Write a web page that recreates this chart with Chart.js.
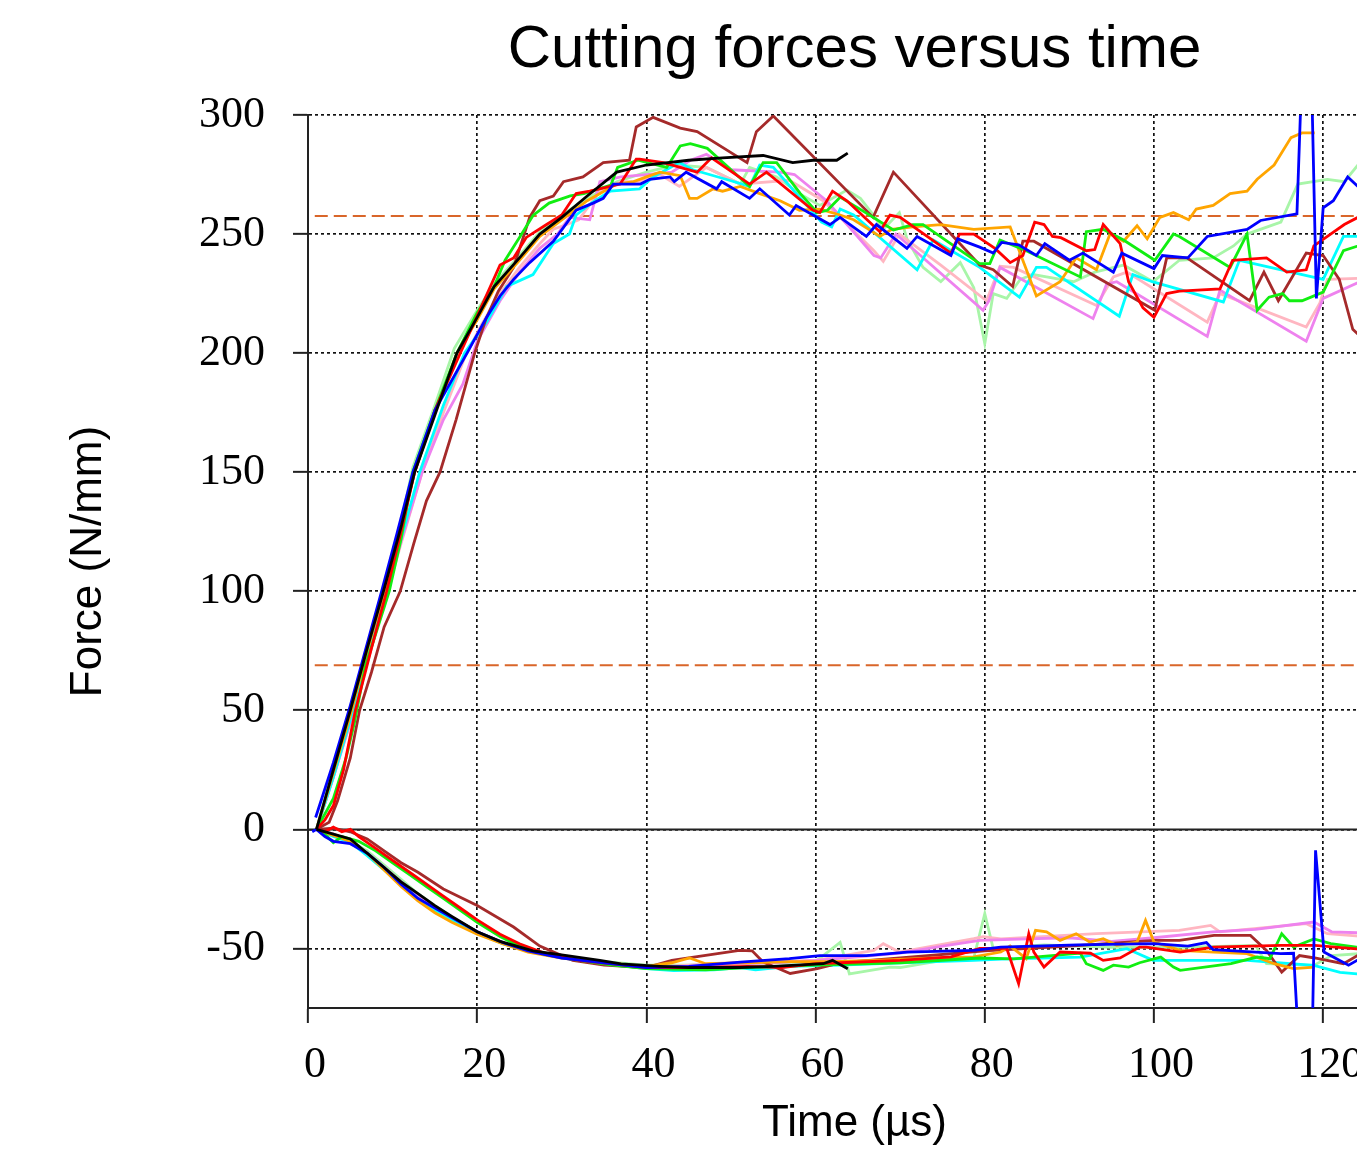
<!DOCTYPE html>
<html>
<head>
<meta charset="utf-8">
<script src="https://cdn.jsdelivr.net/npm/chart.js@4.4.1/dist/chart.umd.min.js"></script>
<style>
  html, body { margin: 0; padding: 0; overflow: hidden; background: #fff; }
</style>
</head>
<body>
<canvas id="forceChart" width="1420" height="1152"></canvas>
<script>
// time (µs), force (N/mm) pairs
const blackUpper = [[1,0],[3,25],[5,50],[7,76],[9,101],[11,127],[12.6,150],[15,174],[17.6,200],[20,215],[22,228],[25,240],[27.4,250],[30,257],[33,266],[36.5,276],[40,279],[45,281],[49,282],[53.8,283],[57.3,280],[59.7,281],[62.5,281],[63.8,284]];
const blackLower = [[1,0],[3,-2],[5,-4],[7,-10],[9,-16],[11,-22],[13,-27],[15,-32],[17,-36.5],[20,-43],[22.7,-47],[26.6,-51],[30.6,-53],[34.5,-55],[37,-56.5],[41.6,-57.5],[45,-58],[51,-58],[55,-57.5],[60.9,-56.4],[62,-55],[63.8,-58.5]];

const blueUpper = [[0.9,5],[3,28],[5,52],[7,78],[8.7,100],[10.5,124],[12.4,150],[15,176],[18.8,200],[21.1,215],[22.7,224],[24.3,231],[26.2,238],[29,247],[31.7,260],[33.7,263],[34.9,265],[36.1,271],[39.3,271],[40.4,273],[42.8,274],[43.3,272],[44.7,276],[48.3,269],[48.9,272],[52.2,265],[53.4,269],[56.9,258],[57.7,262],[61.7,254],[62.9,257],[66,249],[67.2,254],[70.8,244],[72,249],[76,241],[76.8,248],[79.4,244.5],[81,242],[82,246.5],[84,245.5],[86.1,241],[87.1,246],[90,239],[91.6,242],[95.2,234],[96.2,242],[100,235.5],[101,241],[104,240],[106.3,249],[111,252],[112.6,255.7],[116.9,258.5],[117.5,320],[118.6,320],[119.2,223],[120,261],[121.2,264],[122.9,274],[125,267]];
const blueLower = [[0.5,-1],[1,0],[2,-3],[3,-5],[5,-6],[7,-10],[9,-16],[11,-23],[13,-29],[15,-33],[17,-37],[20,-43],[23,-47.5],[26,-51],[30,-54],[35,-56],[40,-58],[45,-57.5],[51.1,-55.7],[56.9,-54.3],[60.5,-53],[66,-53],[70.8,-51.5],[78.7,-50.8],[81.9,-49.4],[91,-48.5],[100,-48],[104,-49],[106.2,-47.5],[107,-50.5],[115,-52.2],[116.5,-52],[117.1,-90],[118.7,-90],[119.1,-8.8],[120.1,-51.5],[123,-57],[125,-53]];

const redUpper = [[1,0],[2,4],[3,10],[4.2,25],[5.6,50],[7.5,76],[9.3,100],[11,125],[12.6,150],[15,176],[18,200],[20.3,218],[22.7,237],[24.3,240],[25.8,248.6],[28.2,254],[30,258],[31.7,267],[33.3,268],[36.9,271],[38.8,281.5],[39.2,281.5],[42,280],[46,276],[47.7,282],[52.2,271],[54.2,276],[59.7,260],[60.5,259],[62,268],[63.7,264],[67.6,251],[68.8,258],[70,257],[76,242],[77,250],[78.7,250],[81.2,244],[83,238],[84.5,241],[85.9,255],[87,254],[88,249],[89,248.5],[92,243],[93,243.5],[94,254],[96,246],[97,230],[98.7,219],[100,215],[101.5,225],[103,226],[107.8,227],[109.3,239],[113.3,240],[115.7,234],[118,235],[118.9,245],[120.5,249],[122.5,254],[124.1,257],[125,258]];
const redLower = [[1,0],[2,-1],[3,1],[4,-1],[5,0],[6,-3],[8,-8],[10,-13],[12,-18],[14,-23],[16,-28],[18,-33],[20,-38],[22.7,-44],[25,-48],[28,-52],[32,-55],[36,-56.5],[40,-58],[46,-58],[52,-57.5],[56,-58],[60,-56.4],[62.9,-56],[70,-55],[76,-53.5],[79.4,-50],[82.6,-50],[84,-64.8],[85.2,-43.8],[85.8,-51.5],[87,-57.8],[88.9,-51.5],[92.5,-52],[94,-55],[96,-54],[98.3,-49.4],[99.1,-49.4],[103.1,-51.5],[107,-49.4],[115,-48.7],[119,-48.7],[125,-50.5]];

const greenUpper = [[1,0],[3,13],[4.5,30],[5.5,45],[6.8,69],[8,82],[9.6,100],[11,122],[12.4,150],[15,176],[17.6,200],[20,217],[22,228],[23.3,239],[25,248.6],[26.6,257.8],[28.5,263],[31,266],[32.6,267],[35.8,270.6],[36.6,278],[39,281],[42.4,278],[44,287],[45.2,288],[47.2,286],[52.2,270],[53.8,280],[55.4,280],[58.2,267],[60.2,259],[61.4,260],[62.9,265.5],[65,261],[69.2,251.7],[71.5,254],[72.7,254],[79.4,237.6],[80.6,237.6],[81.8,247.5],[84.9,243],[91.3,232],[92,251],[94,252],[96.4,247.5],[100.1,239],[102.3,250],[103,249],[109,236],[111,250],[112.2,218],[113.6,223.5],[115.2,225],[116,222],[117.5,222],[120,225.6],[122.4,243],[124.1,245],[125,246]];
const greenLower = [[1,0],[2,-2],[3,-5.6],[4,-3],[6,-5],[8,-9],[10,-14],[12,-19],[14,-24],[16,-29],[18,-34],[20,-39],[22.7,-45],[25,-49],[28,-52.5],[32,-55],[36,-57],[40,-58.5],[47,-59],[52,-58],[60,-57],[70,-56],[79.4,-54],[83.4,-54.4],[91.3,-52],[92,-56.4],[94,-59.2],[95.2,-57],[97,-57.8],[98.3,-56],[100.8,-53.6],[102.3,-57.8],[103.1,-59.2],[109.1,-56.4],[112.2,-53.6],[113.7,-54.3],[115.1,-43.8],[116.5,-49.4],[118.9,-46],[120.9,-48],[125,-50]];

const orangeUpper = [[1,0],[3,24],[5,48],[7,75],[9,100],[11,126],[12.6,150],[15,175],[17.6,200],[20,214],[22,227],[25,239],[27.4,249],[30,256],[33,264],[36.5,271],[38.5,272],[40,274],[41.6,276],[44,274.5],[45.1,265],[46,265],[47.9,269],[49,268],[51.1,270],[53.4,267],[55.8,264],[58.1,260],[60.5,260.5],[62.9,258],[64.5,256],[67.6,249],[69,252],[71.5,253],[74.8,254],[78.7,252],[83,253],[86.1,224],[88.9,230],[90.8,240],[93.2,235],[94.8,250],[96.4,247],[98,253.5],[99.2,248],[100.7,257],[102.3,259],[104.1,256],[105,260.5],[107,262],[109,267],[111,268],[112.2,273],[114.2,279],[116.2,290.5],[117.5,292.5],[119,292.5]];
const orangeLower = [[1,0],[3,-2.5],[5,-5],[7,-10],[9,-17],[11,-24],[13,-30],[15,-35],[17,-39],[20,-44],[23,-48],[26,-51.5],[30,-54],[35,-56],[40,-57.5],[43,-56],[45.1,-54],[47,-56.4],[52,-56],[57,-55.5],[62,-55.5],[66.9,-55],[74,-54],[78.7,-53.5],[81.9,-51.5],[83,-49],[84.9,-54.3],[86,-42.4],[87.3,-43],[88.9,-46.6],[90.8,-43.8],[92.4,-47.3],[94,-45.9],[95.6,-48.7],[98,-47.3],[99,-38.2],[100,-47.3],[103.1,-50.8],[107.1,-51.5],[111,-52.2],[114.2,-56.4],[116.5,-58.5],[119,-57.8]];

const cyanUpper = [[1,0],[3,22],[5,46],[7,72],[9,97],[11,122],[13.2,150],[16,178],[18.5,200],[21.1,213],[23.5,228],[26.6,233],[29,246],[30.9,250],[31.7,258],[33.5,263],[35.7,268],[39.2,269],[40.8,274],[43.9,280],[45.5,277],[49.8,272.6],[52.2,270],[53.4,279],[55,278],[60.7,255],[61.9,253],[62.9,260.5],[64.5,258],[72,235],[73.9,247.5],[79.4,236],[84.1,223.5],[86.1,236],[87.3,236],[95.9,215.5],[97.5,233],[99.8,230],[108.2,221.5],[110.1,239],[120,231],[122.4,249],[125,249]];
const cyanLower = [[1,0],[3,-3],[5,-5.5],[7,-11],[9,-17],[11,-23],[13,-29],[15,-34],[17,-38],[20,-43.5],[23,-48],[26,-51],[30,-54],[35,-56.5],[40,-58.5],[43.2,-59.3],[48,-59],[51.1,-58],[52.9,-59],[57,-57.5],[62.9,-57],[70,-56],[78.7,-55],[82,-54.5],[91.3,-53.6],[96.8,-50.1],[99.9,-55],[111,-55],[118.9,-57.1],[122,-60],[125,-61]];

const lightGreenUpper = [[1,0],[3,26],[5,51],[7,77],[9,103],[11,129],[12.4,152],[15,178],[17.3,202],[20,218],[22,229],[25,241],[27.4,251],[30,258],[33,265],[36.5,272],[40,276],[43.5,279],[47.1,278],[51.1,271],[52.2,278],[55.4,274],[58.1,267],[60.5,262],[63.7,268.5],[65.3,265],[66.9,257.7],[68,252],[69.9,259],[70.8,248],[72.7,236],[74.8,230],[77.1,238],[78.7,227.5],[80,204],[81,225],[82.6,223],[84.2,231],[85.7,233],[87.3,232],[90.5,230],[93,234],[96.4,237],[99.9,230],[103,239],[107,240],[109.4,245],[111,250],[115,255],[117,271],[120.5,273],[122.5,272],[124.1,279],[125,281]];
const lightGreenLower = [[1,0],[3,-2],[5,-5],[7,-9],[9,-15],[11,-21],[13,-27],[15,-32],[17,-37],[20,-43],[23,-47.5],[26,-51],[30,-53.5],[35,-55.5],[40,-57],[45,-57],[50,-56.5],[55,-56],[60,-55.5],[62.9,-47.4],[64,-60.7],[68.8,-57.8],[70,-58],[75,-55],[78.7,-54],[80,-35.4],[81,-50],[87,-48.5],[95,-49.5],[103,-49.5],[112,-48.7],[113.3,-56.4],[118.9,-57.1],[121,-53],[125,-52]];

const pinkUpper = [[1,0],[3,22],[5,45],[7,70],[9,95],[11,120],[13.5,150],[16,175],[18.5,198],[20.5,212],[22.7,225],[25,236],[27.4,246],[29,252],[30.6,254],[32,256],[34.5,268],[37,272],[39.2,272],[41.6,275],[43.9,270],[47.1,278],[51.1,271],[56.9,272.6],[60.9,264],[66.9,243],[68,238.5],[69.9,250],[74.8,237],[80.2,222],[81.8,236.5],[83.4,236],[93.2,220],[95.2,232],[96.8,234],[106.3,213],[107.8,225],[118,211],[119.6,221],[120.5,231],[125,231.5]];
const pinkLower = [[1,0],[3,-2],[5,-5],[7,-10],[9,-16],[11,-22],[13,-28],[15,-33],[17,-37],[20,-43],[23,-47.5],[26,-51],[30,-54],[35,-56.5],[40,-58],[45,-57],[51,-56],[56,-55.5],[60,-55],[66.9,-50.8],[68,-48],[69.9,-51.5],[78.7,-45.9],[79.8,-45],[81.9,-46],[93.2,-43.8],[103,-42.4],[106.7,-40.3],[107.8,-43],[118,-39.6],[120.5,-43.8],[125,-45]];

const violetUpper = [[1,0],[3,22],[5,45],[7,70],[9,96],[11,121],[13.5,150],[16,172],[18.3,187],[20,205],[22.7,222],[25,234],[27.4,244],[29.5,250],[30.9,257],[33.3,256],[34.5,272],[37,274],[40,275],[43,276],[45.2,281],[47.1,283.5],[50,277],[55.8,276],[57.5,275],[61.3,264],[66.9,241],[67.7,240],[69.5,250],[79.8,218],[80.5,222],[81.8,236],[92.8,214.5],[94.4,229],[95.6,230],[106.3,207],[107.8,226.5],[118,205],[120,223],[125,231]];
const violetLower = [[1,0],[3,-2],[5,-5],[7,-10],[9,-16],[11,-22],[13,-28],[15,-33],[17,-37],[20,-43],[23,-47.5],[26,-51],[30,-54],[35,-56.5],[40,-58],[45,-57.5],[50,-56.5],[55,-56],[60,-55],[65,-53.5],[70,-52],[75,-49],[79.4,-46.6],[85,-46],[90,-45.5],[95,-47],[100,-45.5],[107,-43],[112,-42],[118.9,-38.9],[121,-43],[125,-43.5]];

const brownUpper = [[1,0],[2.5,3],[3.5,12],[5,30],[6.1,50],[7.5,66],[9,85],[10.9,100],[12.5,120],[14,138],[15.6,150],[17.5,172],[19.7,200],[21,214],[22.5,226],[24.3,236],[26.2,257],[27.4,264],[29,266],[30.2,272],[32.5,274],[34.9,280],[38,281],[38.8,295],[40.8,299],[44,294.5],[46,293],[51.9,280],[53,293],[55,299.6],[66.8,257],[69.2,276],[79.4,237],[81,235],[83.3,228],[84.5,247],[85.8,247],[100.1,218],[101.5,240],[103.9,240],[111.3,222],[113,234],[114.7,222],[118,242],[120,241],[121.9,231],[123.5,210],[125,205]];
const brownLower = [[1,0],[3,0.5],[5,-1],[7,-4],[9,-9],[11,-14],[13,-18],[16,-25],[20,-32],[24.3,-41],[27.4,-49],[31.3,-55],[35,-57],[40,-58],[43,-55],[51,-50.8],[52.5,-51],[53.8,-55.7],[57,-60.5],[60.2,-58.5],[63,-56],[70,-54],[80,-51],[90,-49],[100,-46.6],[103,-46.6],[107.1,-44.5],[111.4,-44.5],[113.3,-50.8],[115.1,-59.9],[117.2,-53],[119,-54],[122.4,-56.4],[125,-51]];

const refLevels = [257.6, 68.9];
const timeRange = [0, 129.2];
const forceRange = [-75, 300];
const chartTitle = 'Cutting forces versus time';

// drawing order: first is on top
const series = [
  { color: '#000000', upper: blackUpper, lower: blackLower },
  { color: '#0000ff', upper: blueUpper, lower: blueLower },
  { color: '#ff0000', upper: redUpper, lower: redLower },
  { color: '#11ee11', upper: greenUpper, lower: greenLower },
  { color: '#ffa500', upper: orangeUpper, lower: orangeLower },
  { color: '#a52a2a', upper: brownUpper, lower: brownLower },
  { color: '#00ffff', upper: cyanUpper, lower: cyanLower },
  { color: '#ee82ee', upper: violetUpper, lower: violetLower },
  { color: '#ffb6c1', upper: pinkUpper, lower: pinkLower },
  { color: '#a8f5a8', upper: lightGreenUpper, lower: lightGreenLower }
];

const toPoints = arr => arr.map(([x, y]) => ({ x, y }));

const datasets = [];
series.forEach(s => {
  [s.upper, s.lower].forEach(d => {
    datasets.push({
      data: toPoints(d),
      borderColor: s.color,
      borderWidth: 2.8,
      pointRadius: 0,
      tension: 0,
      clip: 0
    });
  });
});
refLevels.forEach(v => {
  datasets.push({
    data: toPoints([[0.8, v], [timeRange[1], v]]),
    borderColor: '#d9662a',
    borderWidth: 2,
    borderDash: [13, 6],
    pointRadius: 0
  });
});
// solid zero line
datasets.push({
  data: toPoints([[timeRange[0], 0], [timeRange[1], 0]]),
  borderColor: '#222',
  borderWidth: 2,
  pointRadius: 0
});

const titlePlugin = {
  id: 'centerTitle',
  afterDraw(chart) {
    const { ctx, chartArea } = chart;
    ctx.save();
    ctx.font = '60px "Liberation Sans", Arial, sans-serif';
    ctx.fillStyle = '#000';
    ctx.textAlign = 'center';
    ctx.textBaseline = 'middle';
    ctx.fillText(chartTitle, (chartArea.left + chartArea.right) / 2, 50);
    ctx.restore();
  }
};

const tickFont = { family: '"Liberation Serif", "DejaVu Serif", serif', size: 44 };
const axisFont = { family: '"Liberation Sans", Arial, sans-serif', size: 44 };

new Chart(document.getElementById('forceChart'), {
  type: 'line',
  data: { datasets },
  plugins: [titlePlugin],
  options: {
    responsive: false,
    animation: false,
    layout: { padding: { top: 115, right: 19, bottom: 0, left: 0 } },
    plugins: { legend: { display: false }, tooltip: { enabled: false } },
    scales: {
      x: {
        type: 'linear',
        min: timeRange[0],
        max: timeRange[1],
        afterFit: s => { s.height = 144; },
        afterBuildTicks: s => { s.ticks = s.ticks.filter(t => t.value % 20 === 0); },
        ticks: { stepSize: 20, includeBounds: false, autoSkip: false, font: tickFont, color: '#000', padding: 16, labelOffset: 7, maxRotation: 0 },
        grid: { color: '#111', lineWidth: 1.7, tickLength: 15, tickColor: '#222', tickWidth: 2 },
        border: { display: true, color: '#222', width: 2, dash: [3, 3] },
        title: { display: true, text: 'Time (µs)', font: axisFont, color: '#000', padding: { top: 0, bottom: 2 } }
      },
      y: {
        min: forceRange[0],
        max: forceRange[1],
        afterFit: s => { s.width = 308; },
        afterBuildTicks: s => { s.ticks = s.ticks.filter(t => t.value % 50 === 0); },
        ticks: { stepSize: 50, includeBounds: false, font: tickFont, color: '#000', padding: 28 },
        grid: { color: '#111', lineWidth: 1.7, tickLength: 15, tickColor: '#222', tickWidth: 2 },
        border: { display: true, color: '#222', width: 2, dash: [3, 3] },
        title: { display: true, text: 'Force (N/mm)', font: axisFont, color: '#000', padding: { top: 62, bottom: 0 } }
      }
    }
  }
});
</script>
</body>
</html>
